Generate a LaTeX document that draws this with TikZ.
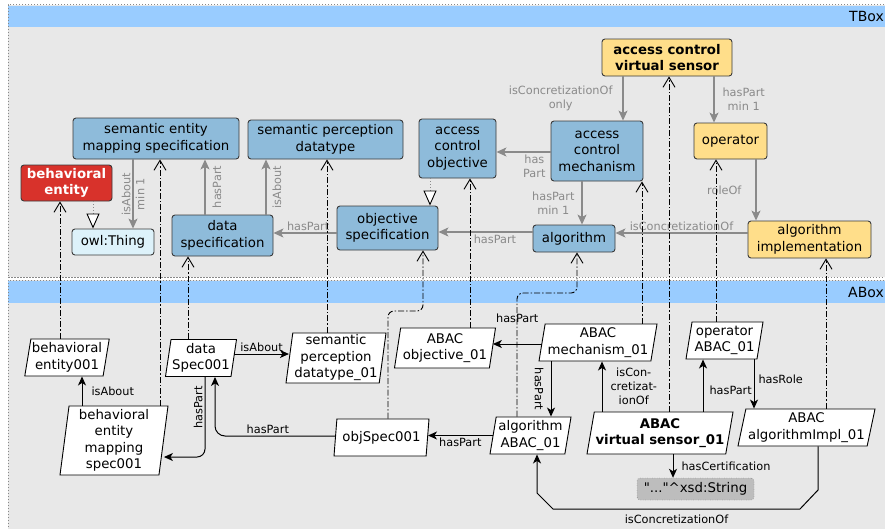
\documentclass[tikz,border=0pt]{standalone}
\usepackage{fontspec}
\setmainfont{DejaVu Sans}[Ligatures=TeXOff]
\usepackage{tikz}
\usetikzlibrary{arrows.meta,shapes.geometric}

\definecolor{bandblue}{HTML}{99CCFF}
\definecolor{boxgray}{HTML}{E8E8E8}
\definecolor{clsblue}{HTML}{8EBBDA}
\definecolor{clsyellow}{HTML}{FFDE8A}
\definecolor{clsred}{HTML}{D8322B}
\definecolor{thingblue}{HTML}{DDF2FA}
\definecolor{edgegray}{HTML}{8A8A8A}
\definecolor{framegray}{HTML}{888888}
\definecolor{litgray}{HTML}{BDBDBD}
\definecolor{nodeline}{HTML}{3A3A3A}

\newcommand{\nfont}{\fontsize{13.3}{16.5}\selectfont}
\newcommand{\lfont}{\fontsize{11.3}{14}\selectfont}

\begin{document}
\begin{tikzpicture}[
    x=1pt, y=-1pt,
    tcls/.style={draw=nodeline, fill=clsblue, rounded corners=3pt, align=center, inner sep=1pt, font=\nfont, line width=0.9pt},
    tyel/.style={tcls, fill=clsyellow},
    tred/.style={tcls, fill=clsred, text=white, font=\nfont\bfseries},
    tthing/.style={tcls, fill=thingblue},
    inst/.style={trapezium, trapezium left angle=#1, trapezium right angle=180-#1, trapezium stretches body, draw=black, fill=white, align=center, inner sep=1pt, font=\nfont, line width=0.9pt},
    inst/.default=79,
    lit/.style={draw=black!70, dotted, fill=litgray, rounded corners=3pt, font=\nfont, inner sep=1pt},
    tedge/.style={draw=edgegray, line width=1.1pt, -{Stealth[length=10pt, width=9pt, inset=2.5pt]}},
    subof/.style={draw=edgegray, line width=1pt, dotted, -{Triangle[length=15pt, width=13pt, color=black, fill=white, line width=0.9pt]}},
    iof/.style={draw=black, line width=0.9pt, dash pattern=on 6pt off 2pt on 1.5pt off 2pt, -{Straight Barb[length=10pt, width=12pt]}},
    aedge/.style={draw=black, line width=1pt, -{Stealth[length=9pt, width=8pt, inset=2.5pt]}},
    tlbl/.style={font=\lfont, text=edgegray, align=center, inner sep=2pt},
    albl/.style={font=\lfont, text=black, align=center, inner sep=2pt},
    boxframe/.style={draw=framegray, line width=1pt, dash pattern=on 1.2pt off 1.8pt}
  ]
    \useasboundingbox (0,0) rectangle (885,528);
    \fill[boxgray] (8,5) rectangle (890,277);
    \fill[bandblue] (8,6) rectangle (890,27);
    \draw[boxframe] (890,4.5) -- (8,4.5) -- (8,277) -- (890,277);
    \fill[boxgray] (8,280) rectangle (890,535);
    \fill[bandblue] (8,281) rectangle (890,303);
    \draw[boxframe] (890,280) -- (8,280) -- (8,535);
    \node[anchor=east, inner sep=0pt, font=\fontsize{14}{16}\selectfont] (tboxlbl) at (884,16.5) {TBox};
    \node[anchor=east, inner sep=0pt, font=\fontsize{14}{16}\selectfont] (aboxlbl) at (884,292.5) {ABox};

    \node[tcls, minimum width=166, minimum height=41] (semmap) at (156,138.5) {semantic entity\\mapping specification};
    \node[tcls, minimum width=155, minimum height=39] (semperc) at (325.5,139.5) {semantic perception\\datatype};
    \node[tred, minimum width=91, minimum height=36] (behent) at (66.5,183) {behavioral\\entity};
    \node[tthing, minimum width=82, minimum height=26] (owlthing) at (113,242) {owl:Thing};
    \node[tcls, minimum width=101, minimum height=41] (dataspec) at (222.5,235.5) {data\\specification};
    \node[tcls, minimum width=101, minimum height=44] (objspec) at (387.5,228) {objective\\specification};
    \node[tcls, minimum width=77, minimum height=59] (acobj) at (457.5,148.5) {access\\control\\objective};
    \node[tcls, minimum width=92, minimum height=60] (acmech) at (597,151) {access\\control\\mechanism};
    \node[tyel, minimum width=130, minimum height=37, font=\nfont\bfseries] (acvs) at (667,57.5) {access control\\virtual sensor};
    \node[tyel, minimum width=73, minimum height=36] (oper) at (730.5,141) {operator};
    \node[tcls, minimum width=82, minimum height=27] (algo) at (574,238.5) {algorithm};
    \node[tyel, minimum width=123, minimum height=37] (algoimpl) at (809.5,239.5) {algorithm\\implementation};

    \node[inst, minimum width=84, minimum height=37] (be1) at (67,357.5) {behavioral\\entity001};
    \node[inst=82, minimum width=108, minimum height=69] (bems1) at (114,440.5) {behavioral\\entity\\mapping\\spec001};
    \node[inst=80, minimum width=71, minimum height=37] (ds1) at (201,358) {data\\Spec001};
    \node[inst=82, minimum width=100, minimum height=50] (spd1) at (336,358) {semantic\\perception\\datatype\_01};
    \node[inst, minimum width=101, minimum height=40] (aobj1) at (445,348) {ABAC\\objective\_01};
    \node[inst, minimum width=118, minimum height=37] (amech1) at (598,342.5) {ABAC\\mechanism\_01};
    \node[inst, minimum width=77, minimum height=37] (oper1) at (724.5,340.5) {operator\\ABAC\_01};
    \node[inst, minimum width=81, minimum height=37] (algo1) at (530.5,435.5) {algorithm\\ABAC\_01};
    \node[inst=77, minimum width=146, minimum height=42, font=\nfont\bfseries] (avs1) at (660,433) {ABAC\\virtual sensor\_01};
    \node[inst=76, minimum width=137, minimum height=37] (aimpl1) at (806.5,427.5) {ABAC\\algorithmImpl\_01};
    \node[inst, minimum width=95, minimum height=37] (objspec1) at (381.5,437.5) {objSpec001};
    \node[lit, minimum width=117, minimum height=22] (xsd) at (695.5,489) {"..."\textasciicircum{}xsd:String};

    \draw[tedge] ([xshift=-23]semmap.south) -- node[tlbl, rotate=90]{isAbout\\min 1} ([xshift=-23]semmap.south |- owlthing.north);
    \draw[subof] ([xshift=26.5]behent.south) -- ([xshift=26.5]behent.south |- owlthing.north);
    \draw[tedge] ([xshift=-17.5]dataspec.north) -- node[tlbl, rotate=90, anchor=north, inner sep=7pt]{hasPart} ([xshift=-17.5]dataspec.north |- semmap.south);
    \draw[tedge] ([xshift=43.5]dataspec.north) -- node[tlbl, rotate=90, anchor=north, inner sep=6pt]{isAbout} ([xshift=43.5]dataspec.north |- semperc.south);
    \draw[tedge] ([yshift=-5]objspec.west) -- node[tlbl, pos=.45, above]{hasPart} ([yshift=-5]objspec.west -| dataspec.east);
    \draw[subof] ([xshift=-27.5]acobj.south) -- ([xshift=-27.5]acobj.south |- objspec.north);
    \draw[tedge] ([yshift=6.5]algo.west) -- node[tlbl, pos=.4, below]{hasPart} ([yshift=6.5]algo.west -| objspec.east);
    \draw[tedge] ([yshift=-1]acmech.west) -- node[tlbl, pos=.3, below]{has\\Part} ([yshift=-1]acmech.west -| acobj.east);
    \draw[tedge] ([xshift=-44]acvs.south) -- node[tlbl, left=8pt]{isConcretizationOf\\only} ([xshift=-44]acvs.south |- acmech.north);
    \draw[tedge] ([xshift=-15]acmech.south) -- node[tlbl, left=5pt]{hasPart\\min 1} ([xshift=-15]acmech.south |- algo.north);
    \draw[tedge] ([xshift=47]acvs.south) -- node[tlbl, right=6pt]{hasPart\\min 1} ([xshift=47]acvs.south |- oper.north);
    \draw[tedge] ([xshift=25.5]oper.south) -- node[tlbl, left=12pt]{roleOf} ([xshift=25.5]oper.south |- algoimpl.north);
    \draw[tedge] ([yshift=6.5]algoimpl.west) -- node[tlbl, above]{isConcretizationOf} ([yshift=6.5]algoimpl.west -| algo.east);

    \draw[iof] ([xshift=-7]be1.north) -- ([xshift=-7]be1.north |- behent.south);
    \draw[iof] ([xshift=46]bems1.north) -- ([xshift=46]bems1.north |- semmap.south);
    \draw[iof] ([xshift=-13]ds1.north) -- ([xshift=-13]ds1.north |- dataspec.south);
    \draw[iof] ([xshift=-9]spd1.north) -- ([xshift=-9]spd1.north |- semperc.south);
    \draw[iof, rounded corners=6pt] ([xshift=6.5]objspec1.north) -- ([xshift=6.5]objspec1.north |- 0,311) -| ([xshift=35.5]objspec.south);
    \draw[iof] ([xshift=25]aobj1.north) -- ([xshift=25]aobj1.north |- acobj.south);
    \draw[iof, rounded corners=6pt] ([xshift=-13.5]algo1.north) -- ([xshift=-13.5]algo1.north |- 0,293) -| ([xshift=3]algo.south);
    \draw[iof] ([xshift=44]amech1.north) -- ([xshift=44]amech1.north |- acmech.south);
    \draw[iof] ([xshift=9]avs1.north) -- ([xshift=9]avs1.north |- acvs.south);
    \draw[iof] ([xshift=-8.5]oper1.north) -- ([xshift=-8.5]oper1.north |- oper.south);
    \draw[iof] ([xshift=19.5]aimpl1.north) -- ([xshift=19.5]aimpl1.north |- algoimpl.south);

    \draw[aedge] ([xshift=-32]bems1.north) -- node[albl, right=7pt]{isAbout} ([xshift=-32]bems1.north |- be1.south);
    \draw[aedge] ([yshift=4]ds1.east) -- node[albl, above]{isAbout} ([yshift=4]ds1.east -| spd1.west);
    \draw[aedge, rounded corners=8pt] ([xshift=4]ds1.south) |- node[albl, pos=.19, rotate=90, anchor=south]{hasPart} ([yshift=-16.5]bems1.east);
    \draw[aedge, rounded corners=10pt] ([yshift=1.5]objspec1.west) -| node[albl, pos=.28, above]{hasPart} ([xshift=14]ds1.south);
    \draw[aedge] (algo1.west) -- node[albl, below]{hasPart} (algo1.west -| objspec1.east);
    \draw[aedge] ([yshift=-1.5]amech1.west) -- node[albl, above=19pt]{hasPart} ([yshift=-1.5]amech1.west -| aobj1.east);
    \draw[aedge] ([xshift=-47]amech1.south) -- node[albl, rotate=-90, anchor=north, inner sep=7pt]{hasPart} ([xshift=-47]amech1.south |- algo1.north);
    \draw[aedge] ([xshift=-58]avs1.north) -- node[albl, right=6pt]{isCon-\\cretizat-\\ionOf} ([xshift=-58]avs1.north |- amech1.south);
    \draw[aedge] ([xshift=43]avs1.north) -- node[albl, pos=.4, right=4pt]{hasPart} ([xshift=43]avs1.north |- oper1.south);
    \draw[aedge] ([xshift=29.5]oper1.south) -- node[albl, pos=.4, right=2pt]{hasRole} ([xshift=29.5]oper1.south |- aimpl1.north);
    \draw[aedge] ([xshift=13]avs1.south) -- node[albl, right=6pt]{hasCertification} ([xshift=13]avs1.south |- xsd.north);
    \draw[aedge] ([xshift=11.5]aimpl1.south) -- ([xshift=11.5]aimpl1.south |- 0,490) -- (800,509) -- node[albl, below=3pt]{isConcretizationOf} (553,509) -- ([xshift=6.5]algo1.south |- 0,493) -- ([xshift=6.5]algo1.south);
  \end{tikzpicture}
\end{document}
